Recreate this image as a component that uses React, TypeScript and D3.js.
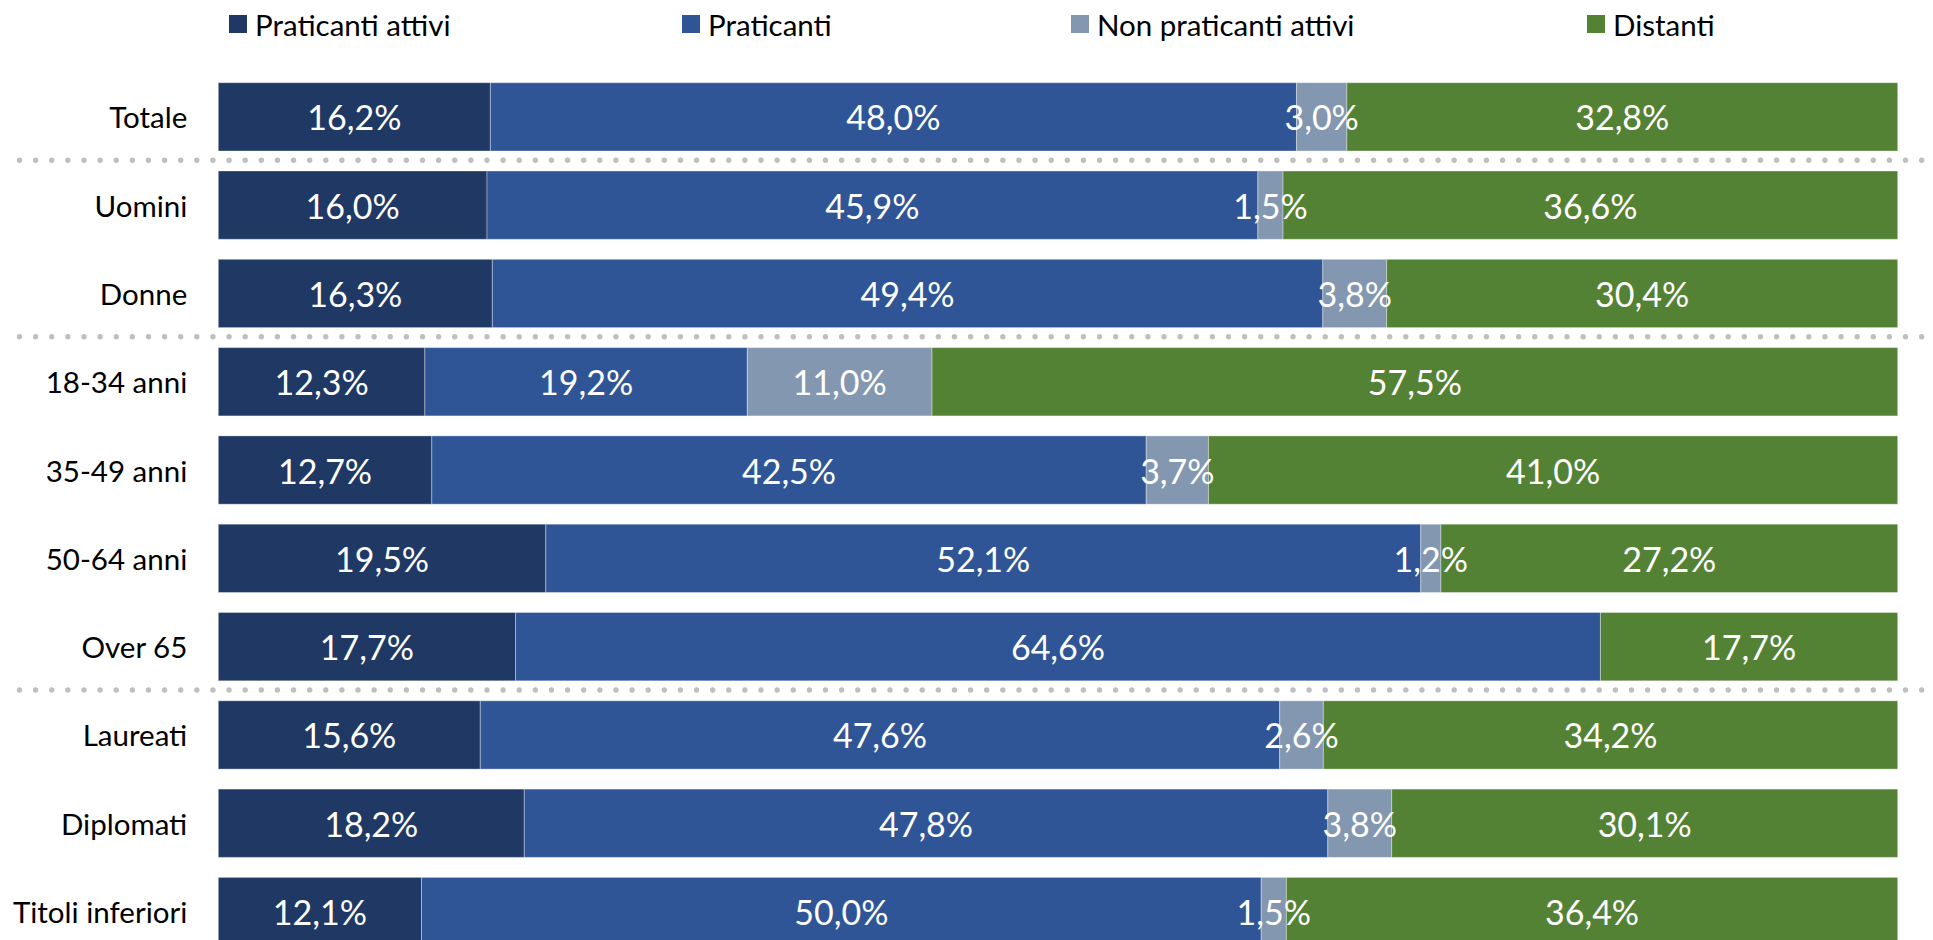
import React from "react";
import * as d3 from "d3";

const categories = [
  "Totale",
  "Uomini",
  "Donne",
  "18-34 anni",
  "35-49 anni",
  "50-64 anni",
  "Over 65",
  "Laureati",
  "Diplomati",
  "Titoli inferiori",
];

const seriesNames = ["Praticanti attivi", "Praticanti", "Non praticanti attivi", "Distanti"];
const seriesColors = ["#203864", "#2F5597", "#8497B0", "#548235"];

const praticantiAttivi = [16.2, 16.0, 16.3, 12.3, 12.7, 19.5, 17.7, 15.6, 18.2, 12.1];
const praticanti = [48.0, 45.9, 49.4, 19.2, 42.5, 52.1, 64.6, 47.6, 47.8, 50.0];
const nonPraticantiAttivi = [3.0, 1.5, 3.8, 11.0, 3.7, 1.2, 0, 2.6, 3.8, 1.5];
const distanti = [32.8, 36.6, 30.4, 57.5, 41.0, 27.2, 17.7, 34.2, 30.1, 36.4];

// group separators after these categories
const separatorsAfter = ["Totale", "Donne", "Over 65"];

const W = 1933;
const H = 940;
const FONT = "Lato, 'Open Sans', sans-serif";

export default function App() {
  const seriesValues = [praticantiAttivi, praticanti, nonPraticantiAttivi, distanti];
  const rows = categories.map((c, i) => {
    const r: Record<string, number | string> = { category: c };
    seriesNames.forEach((s, j) => (r[s] = seriesValues[j][i]));
    return r;
  });

  const stack = d3
    .stack<Record<string, number | string>>()
    .keys(seriesNames)
    .value((d, k) => d[k] as number)
    .offset(d3.stackOffsetExpand);
  const stacked = stack(rows);

  const x = d3.scaleLinear().domain([0, 1]).range([218.3, 1897.7]);
  const y = d3
    .scaleBand<string>()
    .domain(categories)
    .range([82.7, 945.7])
    .paddingInner(0.2265)
    .paddingOuter(0);

  const color = d3.scaleOrdinal<string, string>().domain(seriesNames).range(seriesColors);
  const fmt = (v: number) => v.toFixed(1).replace(".", ",") + "%";

  const legendX = [229, 682, 1071, 1587];
  const gap = y.step() - y.bandwidth();

  return (
    <div style={{ position: "fixed", left: 0, top: 0, width: W, height: H, background: "#fff" }}>
      <svg width={W} height={H} style={{ display: "block" }} fontFamily={FONT}>
        {/* legend */}
        {seriesNames.map((s, i) => (
          <g key={s} transform={`translate(${legendX[i]},0)`}>
            <rect x={0} y={15} width={18} height={18} fill={color(s)} />
            <text x={26} y={24.5} dominantBaseline="central" fontSize={29.5} fill="#000">
              {s}
            </text>
          </g>
        ))}

        {/* separators */}
        {separatorsAfter.map((c) => {
          const yy = (y(c) as number) + y.bandwidth() + gap / 2 - 0.8;
          return (
            <line
              key={c}
              x1={19.5}
              x2={1925}
              y1={yy}
              y2={yy}
              stroke="#BFBFBF"
              strokeWidth={5.4}
              strokeLinecap="round"
              strokeDasharray="0 16.12"
            />
          );
        })}

        {/* bars */}
        {stacked.map((layer) => (
          <g key={layer.key} fill={color(layer.key)}>
            {layer.map((d, i) => {
              const v = seriesValues[seriesNames.indexOf(layer.key)][i];
              if (!v) return null;
              return (
                <rect
                  key={i}
                  x={x(d[0])}
                  y={y(categories[i])}
                  width={x(d[1]) - x(d[0])}
                  height={y.bandwidth()}
                  stroke="rgba(255,255,255,0.35)"
                  strokeWidth={1}
                />
              );
            })}
          </g>
        ))}

        {/* value labels */}
        {stacked.map((layer) => (
          <g key={layer.key + "-lbl"}>
            {layer.map((d, i) => {
              const v = seriesValues[seriesNames.indexOf(layer.key)][i];
              if (!v) return null;
              return (
                <text
                  key={i}
                  x={(x(d[0]) + x(d[1])) / 2}
                  y={(y(categories[i]) as number) + y.bandwidth() / 2}
                  textAnchor="middle"
                  dominantBaseline="central"
                  fontSize={34}
                  fill="#fff"
                >
                  {fmt(v)}
                </text>
              );
            })}
          </g>
        ))}

        {/* category labels */}
        {categories.map((c) => (
          <text
            key={c}
            x={187.3}
            y={(y(c) as number) + y.bandwidth() / 2}
            textAnchor="end"
            dominantBaseline="central"
            fontSize={29.5}
            fill="#000"
          >
            {c}
          </text>
        ))}
      </svg>
    </div>
  );
}
